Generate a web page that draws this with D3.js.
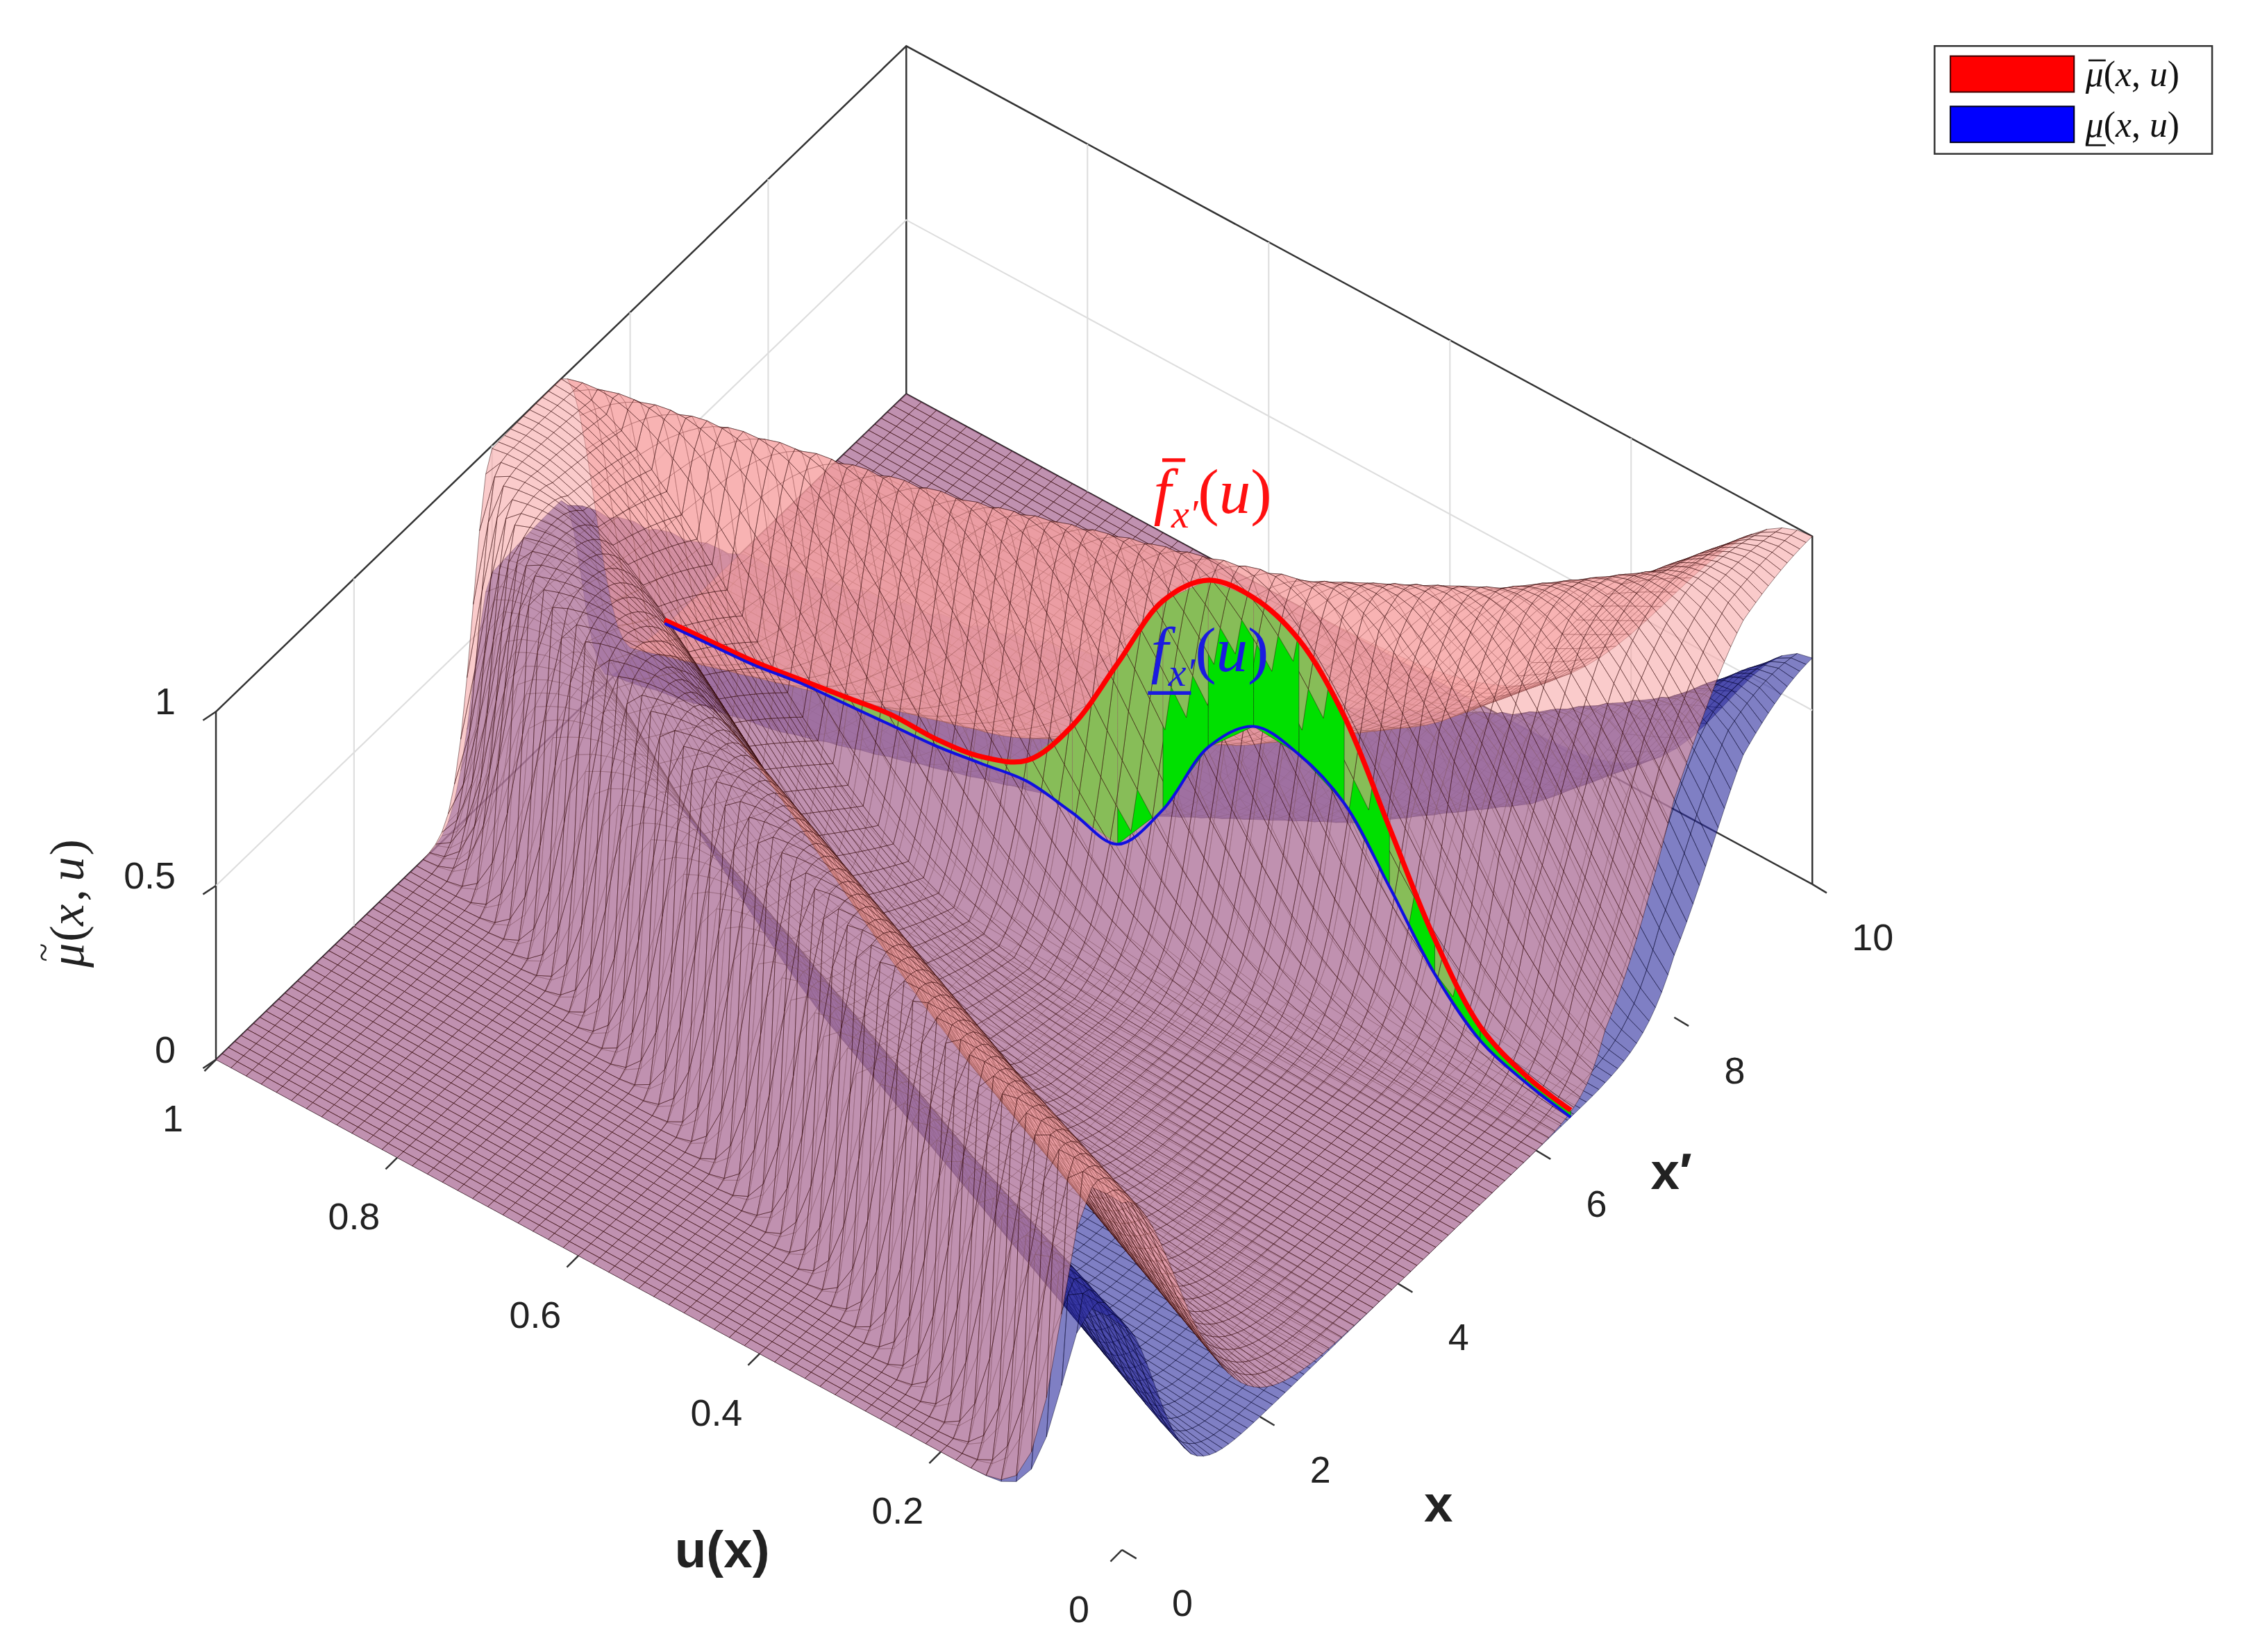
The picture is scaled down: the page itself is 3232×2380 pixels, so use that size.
<!DOCTYPE html>
<html><head><meta charset="utf-8">
<script src="https://cdn.jsdelivr.net/npm/d3@7"></script>
<style>body{margin:0;background:#fff}</style></head>
<body><svg id="c" width="3232" height="2380" viewBox="0 0 1560 1149"></svg>
<script>
// ---- data ----
const xKnots   = [0,1,2,3,4,5,6,7,8,9,10];
const apexU    = [0.02,0.3,0.55,0.8,0.97,1.0,0.6,0.3,0.15,0.05,0.0];
const supportU = [0.03,0.32,0.6,0.87,1,1,1,1,1,1,1];
const widthU   = [0.35,0.35,0.35,0.35,0.32,0.28,0.22,0.22,0.22,0.22,0.22];
const lowerPeak = 0.65;
const sliceX = 6.5;
const sliceU     = [0,0.05,0.1,0.15,0.2,0.25,0.3,0.35,0.4,0.45,0.5,0.55,0.6,0.65,0.7,0.75,0.8,0.85,0.9,0.95,1];
const sliceUpper = [0.02,0.05,0.12,0.3,0.55,0.8,0.95,1,0.98,0.85,0.6,0.35,0.18,0.12,0.1,0.1,0.08,0.06,0.04,0.03,0.02];
const sliceLower = [0,0.03,0.08,0.2,0.38,0.55,0.62,0.63,0.5,0.25,0.08,0.1,0.12,0.1,0.08,0.07,0.06,0.05,0.03,0.02,0.01];
const uTicks = [0,0.2,0.4,0.6,0.8,1], uTickLabels=["0","0.2","0.4","0.6","0.8","1"];
const xTicks = [0,2,4,6,8,10], xTickLabels=["0","2","4","6","8","10"];
const zTicks = [0,0.5,1], zTickLabels=["0","0.5","1"];

const sxU=d3.scaleLinear().domain([0,1]).range([0,-630]);
const sxX=d3.scaleLinear().domain([0,10]).range([0,480]);
const syU=d3.scaleLinear().domain([0,1]).range([0,-341]);
const syX=d3.scaleLinear().domain([0,10]).range([0,-463]);
const syZ=d3.scaleLinear().domain([0,1]).range([0,-242]);
const P=(u,x,z)=>[780+sxX(x)+sxU(u), 1078+syX(x)+syU(u)+syZ(z)];
const depth=(u,x,z)=>-11616*u-15246*x+45537*z;
const gauss=t=>Math.exp(-t*t);

const svg=d3.select("#c");
const interp=arr=>d3.scaleLinear().domain(xKnots).range(arr);
const A=interp(apexU), S=interp(supportU), Wd=interp(widthU);
function up(u,x){const a=A(x),s=S(x),w=Wd(x);
  let v=gauss((Math.min(u,s)-a)/w);
  if(u>s) v*=gauss((u-s)/0.05);
  return v;}
function lo(u,x){const a=A(x),s=S(x),w=Wd(x)*0.6;
  let v=lowerPeak*gauss((Math.min(u,s)-a)/w);
  if(u>s) v*=gauss((u-s)/0.05);
  return v;}

const gBox=svg.append("g").attr("fill","none");
const line=(pts,st,w)=>gBox.append("path").attr("d",d3.line()(pts)).attr("stroke",st).attr("stroke-width",w);
line([P(1,0,0),P(1,0,1),P(1,10,1),P(0,10,1),P(0,10,0)],"#333",1.2);
line([P(1,10,0),P(1,10,1)],"#333",1.2);
line([P(1,0,0),P(1,10,0),P(0,10,0)],"#333",1.2);
[2,4,6,8].forEach(x=>line([P(1,x,0),P(1,x,1)],"#ddd",1));
[0.2,0.4,0.6,0.8].forEach(u=>line([P(u,10,0),P(u,10,1)],"#ddd",1));
line([P(1,0,0.5),P(1,10,0.5),P(0,10,0.5)],"#ddd",1);

const nx=110,nu=60;
function quads(f,fill,stroke,op){
  const out=[];
  for(let i=0;i<nx;i++)for(let j=0;j<nu;j++){
    const x0=10*i/nx,x1=10*(i+1)/nx,u0=j/nu,u1=(j+1)/nu;
    const c=[[u0,x0],[u1,x0],[u1,x1],[u0,x1]].map(([u,x])=>[u,x,f(u,x)]);
    const m=c.reduce((s,p)=>[s[0]+p[0]/4,s[1]+p[1]/4,s[2]+p[2]/4],[0,0,0]);
    out.push({pts:c.map(p=>P(...p)),d:depth(...m),fill,stroke,op});
  }
  return out;
}
const lowItems=quads(lo,"#2a2a9c","#000020",0.6).sort((a,b)=>a.d-b.d);
const upItems=quads(up,"#f5a0a0","#2a0000",0.55);
for(let k=0;k<sliceU.length-1;k++){
  const c=[[sliceU[k],sliceLower[k]],[sliceU[k+1],sliceLower[k+1]],[sliceU[k+1],sliceUpper[k+1]],[sliceU[k],sliceUpper[k]]];
  const m=[(sliceU[k]+sliceU[k+1])/2,sliceX,(sliceUpper[k]+sliceLower[k])/2];
  upItems.push({pts:c.map(([u,z])=>P(u,sliceX,z)),d:depth(...m)+2000,fill:"#00e000",stroke:"#003000",op:1});
}
upItems.sort((a,b)=>a.d-b.d);
const items=lowItems.concat(upItems);
svg.append("g").selectAll("path").data(items).join("path")
  .attr("d",d=>"M"+d.pts.join("L")+"Z")
  .attr("fill",d=>d.fill).attr("fill-opacity",d=>d.op)
  .attr("stroke",d=>d.stroke).attr("stroke-width",0.3).attr("stroke-opacity",0.75);

const sl=d3.line().curve(d3.curveCatmullRom);
svg.append("path").attr("d",sl(sliceU.map((u,i)=>P(u,sliceX,sliceUpper[i])))).attr("fill","none").attr("stroke","#ff0000").attr("stroke-width",3.5);
svg.append("path").attr("d",sl(sliceU.map((u,i)=>P(u,sliceX,sliceLower[i])))).attr("fill","none").attr("stroke","#1010e0").attr("stroke-width",2);

const gA=svg.append("g").attr("font-family","Liberation Sans, Arial").attr("font-size",26).attr("fill","#222");
const tick=(a,b)=>gA.append("path").attr("d",d3.line()([a,b])).attr("stroke","#333").attr("stroke-width",1.2);
uTicks.forEach((u,i)=>{const p=P(u,0,0);tick(p,[p[0]-8,p[1]+8]);
  gA.append("text").attr("x",p[0]-30).attr("y",p[1]+50).attr("text-anchor","middle").text(uTickLabels[i]);});
xTicks.forEach((x,i)=>{const p=P(0,x,0);tick(p,[p[0]+10,p[1]+6]);
  gA.append("text").attr("x",p[0]+42).attr("y",p[1]+46).attr("text-anchor","middle").text(xTickLabels[i]);});
zTicks.forEach((z,i)=>{const p=P(1,0,z);tick(p,[p[0]-9,p[1]+6]);
  gA.append("text").attr("x",p[0]-28).attr("y",p[1]+2).attr("text-anchor","end").text(zTickLabels[i]);});
gA.append("text").attr("x",502).attr("y",1090).attr("text-anchor","middle").attr("font-weight","bold").attr("font-size",36).text("u(x)");
gA.append("text").attr("x",1000).attr("y",1058).attr("text-anchor","middle").attr("font-weight","bold").attr("font-size",36).text("x");
gA.append("text").attr("x",1162).attr("y",827).attr("text-anchor","middle").attr("font-weight","bold").attr("font-size",36).text("x′");
const gz=svg.append("g").attr("transform","translate(58,615) rotate(-90)").attr("font-family","Liberation Serif").attr("font-size",34).attr("fill","#222");
gz.append("text").attr("x",-58).attr("y",0).attr("font-style","italic").text("μ");
gz.append("text").attr("x",-54).attr("y",-20).attr("font-size",24).text("~");
gz.append("text").attr("x",-40).attr("y",0).text("(");
gz.append("text").attr("x",-29).attr("y",0).attr("font-style","italic").text("x");
gz.append("text").attr("x",-12).attr("y",0).text(",");
gz.append("text").attr("x",2).attr("y",0).attr("font-style","italic").text("u");
gz.append("text").attr("x",20).attr("y",0).text(")");

const gm=svg.append("g").attr("font-family","Liberation Serif").attr("font-style","italic");
const t1=gm.append("text").attr("x",802).attr("y",357).attr("fill","#ff1010").attr("font-size",44);
t1.append("tspan").text("f");t1.append("tspan").attr("dy",10).attr("font-size",28).text("x′");t1.append("tspan").attr("dy",-10).attr("font-style","normal").text("(");t1.append("tspan").text("u");t1.append("tspan").attr("font-style","normal").text(")");
gm.append("line").attr("x1",808).attr("x2",824).attr("y1",320).attr("y2",320).attr("stroke","#ff1010").attr("stroke-width",2.5);
const t2=gm.append("text").attr("x",800).attr("y",467).attr("fill","#1a1ae0").attr("font-size",44);
t2.append("tspan").text("f");t2.append("tspan").attr("dy",10).attr("font-size",28).text("x′");t2.append("tspan").attr("dy",-10).attr("font-style","normal").text("(");t2.append("tspan").text("u");t2.append("tspan").attr("font-style","normal").text(")");
gm.append("line").attr("x1",798).attr("x2",828).attr("y1",482).attr("y2",482).attr("stroke","#1a1ae0").attr("stroke-width",2.5);

const gl=svg.append("g").attr("font-family","Liberation Serif").attr("font-size",25).attr("fill","#111");
gl.append("rect").attr("x",1345).attr("y",32).attr("width",193).attr("height",75).attr("fill","#fff").attr("stroke","#333").attr("stroke-width",1.2);
gl.append("rect").attr("x",1356).attr("y",39).attr("width",86).attr("height",25).attr("fill","#ff0000").attr("stroke","#400").attr("stroke-width",1);
gl.append("rect").attr("x",1356).attr("y",74).attr("width",86).attr("height",25).attr("fill","#0000ff").attr("stroke","#002").attr("stroke-width",1);
[[60,"top"],[95,"bot"]].forEach(([y,k])=>{
  const t=gl.append("text").attr("x",1450).attr("y",y);
  t.append("tspan").attr("font-style","italic").text("μ");t.append("tspan").text("(");
  t.append("tspan").attr("font-style","italic").text("x");t.append("tspan").text(", ");
  t.append("tspan").attr("font-style","italic").text("u");t.append("tspan").text(")");
  if(k==="top") gl.append("line").attr("x1",1452).attr("x2",1464).attr("y1",y-18).attr("y2",y-18).attr("stroke","#111").attr("stroke-width",1.3);
  else gl.append("line").attr("x1",1450).attr("x2",1464).attr("y1",y+6).attr("y2",y+6).attr("stroke","#111").attr("stroke-width",1.3);
});
</script></body></html>
